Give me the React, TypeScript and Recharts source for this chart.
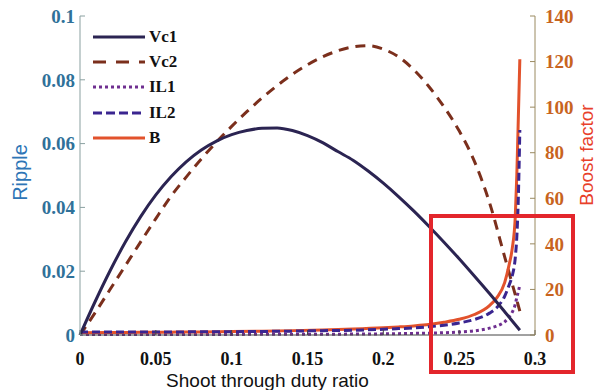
import React from 'react';
import { LineChart, Line, XAxis, YAxis, Legend } from 'recharts';

// Shoot-through duty ratio grid for capacitor voltage ripples
const dutyVc = [0, 0.01, 0.02, 0.03, 0.04, 0.05, 0.06, 0.07, 0.08, 0.09, 0.1, 0.11, 0.12, 0.13, 0.14, 0.15, 0.16, 0.17, 0.18, 0.19, 0.2, 0.21, 0.22, 0.23, 0.24, 0.25, 0.26, 0.27, 0.28, 0.29];
const vc1 = [0, 0.0105, 0.0203, 0.0292, 0.0371, 0.0439, 0.0496, 0.0543, 0.058, 0.0608, 0.0628, 0.0641, 0.0648, 0.0649, 0.0641, 0.0625, 0.0603, 0.0575, 0.0548, 0.0514, 0.0476, 0.0434, 0.0389, 0.0341, 0.0291, 0.0239, 0.0185, 0.013, 0.0073, 0.0015];
const vc2 = [0, 0.007, 0.0144, 0.0218, 0.0292, 0.0365, 0.0435, 0.0495, 0.0552, 0.0605, 0.0654, 0.07, 0.0743, 0.0782, 0.0817, 0.0847, 0.0872, 0.0891, 0.0903, 0.0907, 0.0896, 0.0872, 0.0832, 0.0779, 0.0715, 0.064, 0.0545, 0.0415, 0.0245, 0.0075];

// Duty grid for boost factor and inductor current ripples
const dutyB = [0, 0.02, 0.04, 0.06, 0.08, 0.1, 0.12, 0.14, 0.16, 0.18, 0.2, 0.21, 0.22, 0.23, 0.24, 0.25, 0.26, 0.27, 0.275, 0.28, 0.283, 0.285, 0.287, 0.288, 0.289, 0.29];
const boost = [1.0, 1.07, 1.16, 1.26, 1.37, 1.52, 1.7, 1.92, 2.21, 2.6, 3.16, 3.55, 4.0, 4.6, 5.6, 6.9, 9.0, 12.9, 16.5, 23, 31, 38, 52, 70, 95, 121];
const il2 = [1.3, 1.3, 1.3, 1.35, 1.4, 1.45, 1.55, 1.7, 1.9, 2.1, 2.5, 2.8, 3.1, 3.6, 4.3, 5.3, 6.8, 9.6, 12.2, 17, 22, 26, 34, 43, 60, 90];
const il1 = [0.2, 0.2, 0.2, 0.2, 0.2, 0.25, 0.3, 0.3, 0.35, 0.4, 0.5, 0.6, 0.7, 0.8, 1.0, 1.3, 1.8, 3.0, 4.0, 5.8, 8, 10, 13.5, 16.5, 19, 22];

const xTicks = [0, 0.05, 0.1, 0.15, 0.2, 0.25, 0.3];
const leftTicks = [0, 0.02, 0.04, 0.06, 0.08, 0.1];
const rightTicks = [0, 20, 40, 60, 80, 100, 120, 140];

const seriesNames = ['Vc1', 'Vc2', 'IL1', 'IL2', 'B'];

const vcData = dutyVc.map((d, i) => ({ d, Vc1: vc1[i], Vc2: vc2[i] }));
const bData = dutyB.map((d, i) => ({ d, B: boost[i], IL1: il1[i], IL2: il2[i] }));

const styles: Record<string, { color: string; dash?: string; legendDash?: string }> = {
  Vc1: { color: '#2b2452' },
  Vc2: { color: '#7b2f1c', dash: '10 7', legendDash: '13 10' },
  IL1: { color: '#6f2f90', dash: '3 3', legendDash: '3 3' },
  IL2: { color: '#3a2590', dash: '8 4', legendDash: '9 4' },
  B: { color: '#e2522c' },
};

const serif = '"Liberation Serif", "Times New Roman", serif';
const sans = '"Liberation Sans", Arial, sans-serif';

const LegendBox = () => (
  <div style={{ display: 'flex', flexDirection: 'column' }}>
    {seriesNames.map((n) => (
      <div key={n} style={{ height: 25.4, display: 'flex', alignItems: 'center' }}>
        <svg width={54} height={10} style={{ display: 'block' }}>
          <line x1={1} y1={5} x2={53} y2={5} stroke={styles[n].color} strokeWidth={3} strokeDasharray={styles[n].legendDash} />
        </svg>
        <span style={{ marginLeft: 3, fontFamily: serif, fontWeight: 'bold', fontSize: 17, color: '#111' }}>{n}</span>
      </div>
    ))}
  </div>
);

export default function App() {
  return (
    <div style={{ position: 'absolute', left: 0, top: 0, width: 597, height: 390, background: '#fff' }}>
      <LineChart width={597} height={390} margin={{ top: 16, right: 0, bottom: 0, left: 0 }}>
        <XAxis
          xAxisId="bottom"
          dataKey="d"
          type="number"
          domain={[0, 0.3]}
          ticks={xTicks}
          height={55}
          tickSize={-5}
          tickMargin={22}
          stroke="#444"
          tick={{ fill: '#111', fontFamily: serif, fontWeight: 'bold', fontSize: 18 }}
          label={{
            content: (p: any) => {
              const vb = p.viewBox;
              return (
                <text x={vb.x + vb.width / 2 - 40} y={vb.y + 52} textAnchor="middle" fontFamily={sans} fontSize={19} fill="#111">
                  Shoot through duty ratio
                </text>
              );
            },
          }}
        />
        <XAxis xAxisId="top" dataKey="d" type="number" orientation="top" domain={[0, 0.3]} ticks={xTicks} height={0} tickSize={-5} tick={false} stroke="#555" />
        <YAxis
          yAxisId="left"
          orientation="left"
          domain={[0, 0.1]}
          ticks={leftTicks}
          width={80}
          tickSize={-5}
          tickMargin={10}
          stroke="#8aa0a0"
          tick={{ fill: '#2f7199', fontFamily: serif, fontWeight: 'bold', fontSize: 19 }}
          label={{
            content: (p: any) => {
              const vb = p.viewBox;
              const cx = vb.x + 20;
              const cy = vb.y + vb.height / 2 - 3;
              return (
                <text x={cx} y={cy} transform={`rotate(-90 ${cx} ${cy})`} textAnchor="middle" dominantBaseline="central" fontFamily={sans} fontSize={20} fill="#2e75b6">
                  Ripple
                </text>
              );
            },
          }}
        />
        <YAxis
          yAxisId="right"
          orientation="right"
          domain={[0, 140]}
          ticks={rightTicks}
          width={62}
          tickSize={-5}
          tickMargin={15}
          stroke="#9a8a60"
          tick={{ fill: '#c8641e', fontFamily: serif, fontWeight: 'bold', fontSize: 19 }}
          label={{
            content: (p: any) => {
              const vb = p.viewBox;
              const cx = vb.x + 51;
              const cy = vb.y + 139;
              return (
                <text x={cx} y={cy} transform={`rotate(-90 ${cx} ${cy})`} textAnchor="middle" dominantBaseline="central" fontFamily={sans} fontSize={19} fill="#e8402a">
                  Boost factor
                </text>
              );
            },
          }}
        />
        <Legend
          layout="vertical"
          align="center"
          verticalAlign="middle"
          wrapperStyle={{ position: 'absolute', left: 92, top: 24, width: 110 }}
          content={() => <LegendBox />}
        />
        <Line data={bData} xAxisId="bottom" yAxisId="right" dataKey="IL1" type="monotone" stroke={styles.IL1.color} strokeWidth={3} strokeDasharray={styles.IL1.dash} dot={false} isAnimationActive={false} />
        <Line data={vcData} xAxisId="bottom" yAxisId="left" dataKey="Vc2" type="monotone" stroke={styles.Vc2.color} strokeWidth={3} strokeDasharray={styles.Vc2.dash} dot={false} isAnimationActive={false} />
        <Line data={bData} xAxisId="bottom" yAxisId="right" dataKey="B" type="monotone" stroke={styles.B.color} strokeWidth={3} dot={false} isAnimationActive={false} />
        <Line data={bData} xAxisId="bottom" yAxisId="right" dataKey="IL2" type="monotone" stroke={styles.IL2.color} strokeWidth={3} strokeDasharray={styles.IL2.dash} dot={false} isAnimationActive={false} />
        <Line data={vcData} xAxisId="bottom" yAxisId="left" dataKey="Vc1" type="monotone" stroke={styles.Vc1.color} strokeWidth={3} dot={false} isAnimationActive={false} />
      </LineChart>
      <div style={{ position: 'absolute', left: 429, top: 214, width: 146, height: 160, boxSizing: 'border-box', border: '4px solid #e3262c', pointerEvents: 'none' }} />
    </div>
  );
}
